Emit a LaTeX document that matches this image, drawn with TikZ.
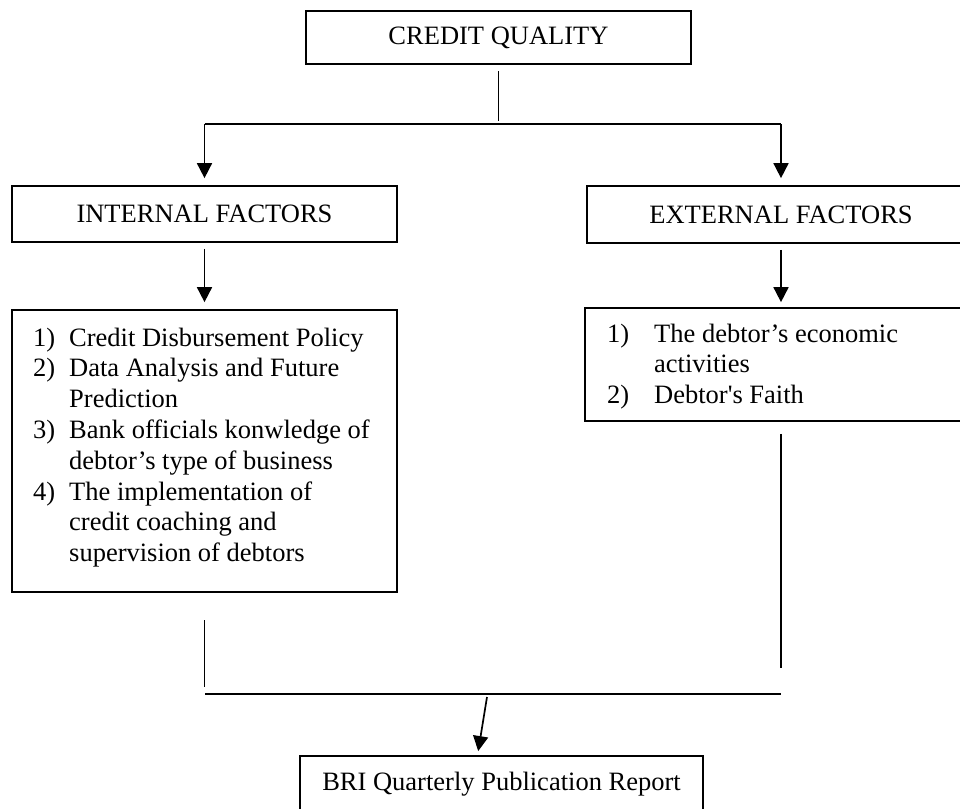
\documentclass[tikz,border=0pt]{standalone}
\usepackage{fontspec}
\setmainfont{Liberation Serif}
\usetikzlibrary{arrows.meta}
\begin{document}
\begin{tikzpicture}[x=1pt,y=-1pt,
  box/.style={draw,line width=1.7pt,inner sep=0pt,font=\fontsize{26.5pt}{30.8pt}\selectfont},
  conn/.style={line width=1.7pt},
  arr/.style={conn,-{Triangle[length=15pt,width=15pt]}},
  listtext/.style={inner sep=0pt,anchor=base west,font=\fontsize{26.5pt}{30.8pt}\selectfont}]
\useasboundingbox (0,0) rectangle (960,808);
\clip (0,0) rectangle (960,808);
% boxes
\node[box,minimum width=385pt,minimum height=53pt] (cq) at (498.5,37.5) {CREDIT QUALITY};
\node[box,minimum width=385pt,minimum height=56pt] (intf) at (204.5,214) {INTERNAL FACTORS};
\node[box,minimum width=388pt,minimum height=57pt] (extf) at (781,214.5) {EXTERNAL FACTORS};
\node[box,minimum width=385pt,minimum height=282pt] (intl) at (204.5,451) {};
\node[box,minimum width=392pt,minimum height=113pt] (extl) at (781,364.5) {};
\node[box,minimum width=403pt,minimum height=56pt] (bri) at (501.5,784) {BRI Quarterly Publication Report};
% list texts
\node[listtext] (intt) at (33,346) {\begin{tabular}[t]{@{}p{36pt}@{}l@{}}
1) & Credit Disbursement Policy\\
2) & Data Analysis and Future\\
   & Prediction\\
3) & Bank officials konwledge of\\
   & debtor’s type of business\\
4) & The implementation of\\
   & credit coaching and\\
   & supervision of debtors
\end{tabular}};
\node[listtext] (extt) at (607,342) {\begin{tabular}[t]{@{}p{47pt}@{}l@{}}
1) & The debtor’s economic\\
   & activities\\
2) & Debtor\textquotesingle s Faith
\end{tabular}};
% connectors
\coordinate (t1) at (498.5,71);
\coordinate (t2) at (498.5,121);
\coordinate (hl) at (204.5,124);
\coordinate (hr) at (781,124);
\draw[conn] (t1) -- (t2);
\draw[conn] (hl) -- (hr);
\draw[arr,shorten >=7pt] (hl) -- (intf.north);
\draw[arr,shorten >=7pt] (hr) -- (extf.north);
\draw[arr,shorten <=6pt,shorten >=7pt] (intf.south) -- (intl.north);
\draw[arr,shorten <=6pt,shorten >=5pt] (extf.south) -- (extl.north);
\coordinate (eb) at (781,668);
\draw[conn,shorten <=12pt] (extl.south) -- (eb);
\coordinate (lt) at (204.5,620);
\coordinate (lb) at (204.5,687);
\draw[conn] (lt) -- (lb);
\coordinate (bl) at (205,694);
\coordinate (br) at (781,694);
\draw[conn] (bl) -- (br);
\coordinate (sa) at (487,697);
\coordinate (sb) at (477.4,756);
\draw[arr,shorten >=5pt] (sa) -- (sb);
\end{tikzpicture}
\end{document}
